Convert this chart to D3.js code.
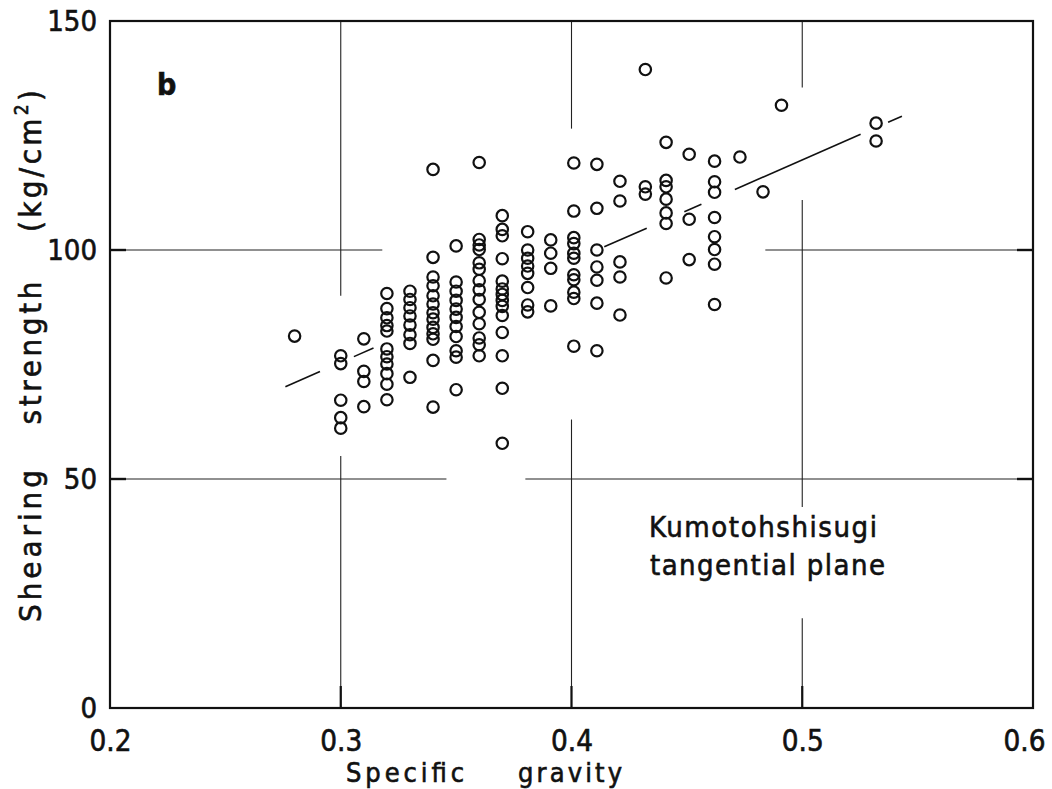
<!DOCTYPE html>
<html>
<head>
<meta charset="utf-8">
<script src="https://cdn.jsdelivr.net/npm/d3@7"></script>
<style>
body { margin: 0; background: #fff; }
svg text { font-family: "DejaVu Sans Condensed", "DejaVu Sans", sans-serif; fill: #111; stroke: #111; stroke-width: 0.6; }
</style>
</head>
<body>
<div id="chart"></div>
<script>
// specific gravity columns, and the shearing strengths read in each column
var gravity = [0.280, 0.300, 0.310, 0.320, 0.330, 0.340, 0.350, 0.360, 0.370, 0.381, 0.391,
               0.401, 0.411, 0.421, 0.432, 0.441, 0.451, 0.462, 0.473, 0.483, 0.491, 0.532];
var strength = [
    [81.2],
    [76.9, 75.2, 67.2, 63.4, 61.1],
    [80.6, 73.5, 71.3, 65.8],
    [90.5, 87.2, 85.2, 83.5, 82.3, 78.4, 76.7, 75.1, 73.0, 70.7, 67.3],
    [91.0, 89.2, 87.4, 85.6, 83.6, 81.5, 79.6, 72.2],
    [117.6, 98.4, 94.1, 92.2, 90.0, 88.2, 86.3, 84.9, 83.1, 81.7, 80.5, 75.9, 65.7],
    [100.9, 93.0, 91.0, 89.0, 87.1, 85.3, 83.3, 81.1, 78.0, 76.6, 69.5],
    [119.1, 102.3, 101.1, 100.1, 97.2, 95.8, 93.3, 91.3, 89.2, 86.4, 83.9, 80.8, 79.3, 76.9],
    [107.5, 104.5, 103.1, 98.1, 93.2, 91.5, 90.3, 89.0, 87.7, 85.7, 82.0, 76.9, 69.8, 57.8],
    [104.0, 100.0, 98.2, 96.5, 94.9, 91.8, 88.0, 86.5],
    [102.2, 99.3, 96.0, 87.8],
    [119.0, 108.5, 102.7, 101.4, 99.3, 98.2, 94.6, 93.5, 90.8, 89.4, 79.0],
    [118.7, 109.1, 100.0, 96.3, 93.4, 88.4, 78.0],
    [115.0, 110.7, 97.4, 94.1, 85.8],
    [139.4, 113.8, 112.2],
    [123.5, 115.2, 113.8, 111.1, 108.1, 105.8, 93.9],
    [120.9, 106.7, 97.9],
    [119.4, 114.9, 112.6, 107.1, 102.9, 100.1, 96.9, 88.1],
    [120.3],
    [112.7],
    [131.6],
    [127.7, 123.8]
];

// regression line  y = a + b x , drawn only where it is not hidden by points
var fitA = 9.16;
var fitB = 221.0;
var fitPieces = [[0.276, 0.291], [0.3057, 0.3142], [0.4142, 0.4326], [0.4489, 0.4563], [0.4708, 0.5253], [0.5372, 0.5432]];

var xTicks = [0.2, 0.3, 0.4, 0.5, 0.6];
var yTicks = [0, 50, 100, 150];

// grid lines are broken where the data sits
var gridV = [0.3, 0.4, 0.5];
var gridVPieces = [[[0, 55], [90, 150]], [[0, 63], [126.5, 150]], [[0, 19.6], [43.9, 110.9], [135.5, 150]]];
var gridH = [50, 100];
var gridHPieces = [[[0.2, 0.3458], [0.380, 0.6]], [[0.2, 0.318], [0.484, 0.6]]];

function init() {
    var w = 1052, h = 789;
    var pl = 110, pr = 1033, pt = 21, pb = 708;

    var x = d3.scaleLinear().domain([0.2, 0.6]).range([pl, pr]);
    var y = d3.scaleLinear().domain([0, 150]).range([pb, pt]);

    var svg = d3.select("#chart").append("svg")
        .attr("width", w)
        .attr("height", h);

    // grid
    gridV.forEach(function(v, i) {
        svg.selectAll(null)
            .data(gridVPieces[i])
            .enter()
            .append("line")
            .attr("x1", x(v)).attr("x2", x(v))
            .attr("y1", function(d) { return y(d[0]); })
            .attr("y2", function(d) { return y(d[1]); })
            .attr("stroke", "#222")
            .attr("stroke-width", 1.1);
    });
    gridH.forEach(function(v, i) {
        svg.selectAll(null)
            .data(gridHPieces[i])
            .enter()
            .append("line")
            .attr("y1", y(v)).attr("y2", y(v))
            .attr("x1", function(d) { return x(d[0]); })
            .attr("x2", function(d) { return x(d[1]); })
            .attr("stroke", "#222")
            .attr("stroke-width", 1.1);
    });

    // inner ticks, heavier than the grid
    svg.selectAll(null)
        .data(gridV)
        .enter()
        .append("line")
        .attr("x1", function(d) { return x(d); })
        .attr("x2", function(d) { return x(d); })
        .attr("y1", pb)
        .attr("y2", pb - 22)
        .attr("stroke", "#111")
        .attr("stroke-width", 2.2);
    svg.selectAll(null)
        .data(gridH)
        .enter()
        .append("line")
        .attr("x1", pl).attr("x2", pl + 16)
        .attr("y1", function(d) { return y(d); })
        .attr("y2", function(d) { return y(d); })
        .attr("stroke", "#111")
        .attr("stroke-width", 2.4);
    svg.selectAll(null)
        .data(gridH)
        .enter()
        .append("line")
        .attr("x1", pr - 16).attr("x2", pr)
        .attr("y1", function(d) { return y(d); })
        .attr("y2", function(d) { return y(d); })
        .attr("stroke", "#111")
        .attr("stroke-width", 2.4);

    // frame
    svg.append("rect")
        .attr("x", pl).attr("y", pt)
        .attr("width", pr - pl).attr("height", pb - pt)
        .attr("fill", "none")
        .attr("stroke", "#111")
        .attr("stroke-width", 2.2);

    // axes labels
    var yAxis = svg.append("g")
        .attr("transform", "translate(" + pl + ",0)")
        .call(d3.axisLeft(y).tickValues(yTicks).tickSize(0).tickPadding(13).tickFormat(d3.format("d")));
    yAxis.select(".domain").remove();
    yAxis.attr("font-family", null).attr("font-size", 29);
    yAxis.selectAll("text").attr("fill", "#111");

    var xAxis = svg.append("g")
        .attr("transform", "translate(0," + pb + ")")
        .call(d3.axisBottom(x).tickValues(xTicks).tickSize(0).tickPadding(22).tickFormat(d3.format(".1f")));
    xAxis.select(".domain").remove();
    xAxis.attr("font-family", null).attr("font-size", 30);
    xAxis.selectAll("text")
        .attr("fill", "#111")
        .attr("textLength", 42)
        .attr("lengthAdjust", "spacingAndGlyphs")
        .attr("dx", function(d) { return d == 0.6 ? -9 : 0; });

    // regression line
    svg.selectAll(null)
        .data(fitPieces)
        .enter()
        .append("line")
        .attr("x1", function(d) { return x(d[0]); })
        .attr("x2", function(d) { return x(d[1]); })
        .attr("y1", function(d) { return y(fitA + fitB * d[0]); })
        .attr("y2", function(d) { return y(fitA + fitB * d[1]); })
        .attr("stroke", "#111")
        .attr("stroke-width", 1.6);

    // points
    var pts = [];
    gravity.forEach(function(g, i) {
        strength[i].forEach(function(s) { pts.push({ g: g, s: s }); });
    });
    svg.selectAll("circle")
        .data(pts)
        .enter()
        .append("circle")
        .attr("cx", function(d) { return x(d.g); })
        .attr("cy", function(d) { return y(d.s); })
        .attr("r", 5.7)
        .attr("fill", "none")
        .attr("stroke", "#111")
        .attr("stroke-width", 2.2);

    // titles
    svg.append("text")
        .attr("x", 405).attr("y", 782)
        .attr("text-anchor", "middle")
        .attr("font-size", 27)
        .attr("textLength", 118)
        .text("Specific");
    svg.append("text")
        .attr("x", 570).attr("y", 782)
        .attr("text-anchor", "middle")
        .attr("font-size", 27)
        .attr("textLength", 104)
        .text("gravity");

    var yTitle = [
        { t: "Shearing", c: 546, len: 152 },
        { t: "strength", c: 353, len: 143 },
        { t: "(kg/cm", c: 161, len: 142 }
    ];
    yTitle.forEach(function(d) {
        var t = svg.append("text")
            .attr("transform", "translate(41," + d.c + ") rotate(-90)")
            .attr("text-anchor", "middle")
            .attr("font-size", 31)
            .attr("textLength", d.len)
            .text(d.t);
        if (d.t == "(kg/cm") {
            t.append("tspan").attr("font-size", 19).attr("dy", -13).text("2");
            t.append("tspan").attr("dy", 13).text(")");
        }
    });

    svg.append("text")
        .attr("x", 157).attr("y", 95)
        .attr("font-size", 30)
        .attr("font-weight", "bold")
        .text("b");

    svg.append("text")
        .attr("x", 649).attr("y", 537)
        .attr("font-size", 29)
        .attr("textLength", 228)
        .text("Kumotohshisugi");
    svg.append("text")
        .attr("x", 650).attr("y", 575)
        .attr("font-size", 29)
        .attr("textLength", 235)
        .text("tangential plane");
}

window.onload = init;
</script>
</body>
</html>
